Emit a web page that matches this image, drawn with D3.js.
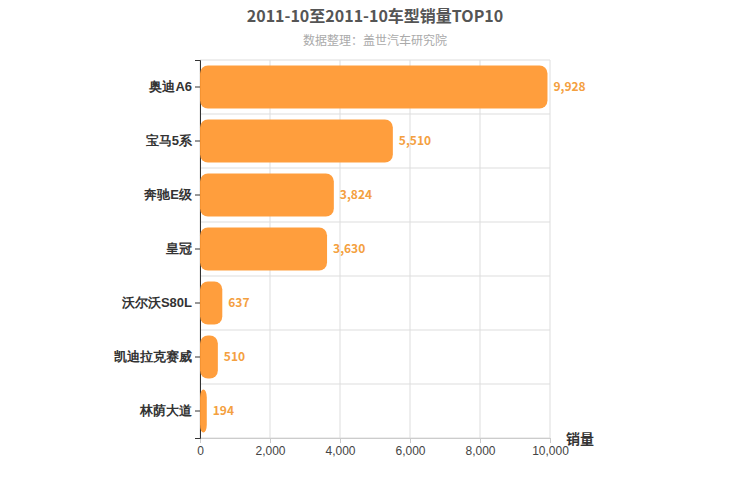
<!DOCTYPE html>
<html><head><meta charset="utf-8">
<script src="https://cdn.jsdelivr.net/npm/d3@7"></script>
<style>body{margin:0;font-family:"Noto Sans CJK SC","Noto Sans",sans-serif;background:#fff}</style>
</head><body><div id="chart"></div>
<script>
const categories = ['奥迪A6', '宝马5系', '奔驰E级', '皇冠', '沃尔沃S80L', '凯迪拉克赛威', '林荫大道']
const sales = [9928, 5510, 3824, 3630, 637, 510, 194]
const ticks = [0, 2000, 4000, 6000, 8000, 10000]

const margins = { left: 200, top: 60, right: 200, bottom: 62 }
const width = 750, height = 500
const plotW = width - margins.left - margins.right
const plotH = height - margins.top - margins.bottom

const svg = d3.select('#chart').append('svg').attr('width', width).attr('height', height)
svg.append('text').attr('x', 375).attr('y', 22).attr('text-anchor', 'middle')
  .attr('font-size', 16).attr('font-weight', 'bold').attr('fill', '#555')
  .text('2011-10至2011-10车型销量TOP10')
svg.append('text').attr('x', 375).attr('y', 45).attr('text-anchor', 'middle')
  .attr('font-size', 12).attr('fill', '#aaa').text('数据整理：盖世汽车研究院')

const plot = svg.append('g').attr('transform', `translate(${margins.left},${margins.top})`)
const x = d3.scaleLinear().domain([0, 10000]).range([0, plotW])
const y = d3.scaleBand().domain(categories).range([0, plotH]).paddingInner(0.2).paddingOuter(0.1)
const step = y.step()

// grid
plot.selectAll('line.vg').data(ticks).enter().append('line')
  .attr('x1', d => x(d)).attr('x2', d => x(d)).attr('y1', 0).attr('y2', plotH)
  .attr('stroke', '#ddd')
plot.selectAll('line.hg').data(d3.range(categories.length + 1)).enter().append('line')
  .attr('x1', 0).attr('x2', plotW).attr('y1', d => d * step).attr('y2', d => d * step)
  .attr('stroke', '#ddd')

// x axis
const xa = plot.append('g').attr('transform', `translate(0,${plotH})`)
  .call(d3.axisBottom(x).tickValues(ticks).tickFormat(d3.format(',')).tickSize(5))
xa.select('.domain').attr('stroke', '#ccc')
xa.selectAll('line').attr('stroke', '#ccc')
xa.selectAll('text').attr('font-size', 12).attr('fill', '#444')

// y axis
const ya = plot.append('g').call(d3.axisLeft(y).tickSize(5))
ya.select('.domain').attr('stroke', '#333')
ya.selectAll('line').attr('stroke', '#333')
ya.selectAll('text').attr('font-size', 13).attr('font-weight', 'bold').attr('fill', '#333')

svg.append('text').attr('x', 580).attr('y', 444).attr('text-anchor', 'middle')
  .attr('font-size', 14).attr('font-weight', 'bold').attr('fill', '#333').text('销量')

const data = categories.map((c, i) => ({ name: c, value: sales[i] }))
plot.selectAll('rect.bar').data(data).enter().append('rect')
  .attr('x', 0).attr('y', d => y(d.name))
  .attr('width', d => x(d.value)).attr('height', y.bandwidth())
  .attr('rx', 8).attr('fill', '#ff9933').attr('opacity', 0.95)
plot.selectAll('text.count').data(data).enter().append('text')
  .attr('x', d => x(d.value) + 6).attr('y', d => y(d.name) + y.bandwidth() / 2 + 4)
  .attr('font-size', 12).attr('font-weight', 'bold').attr('fill', '#f4a040')
  .text(d => d3.format(',')(d.value))
</script></body></html>
